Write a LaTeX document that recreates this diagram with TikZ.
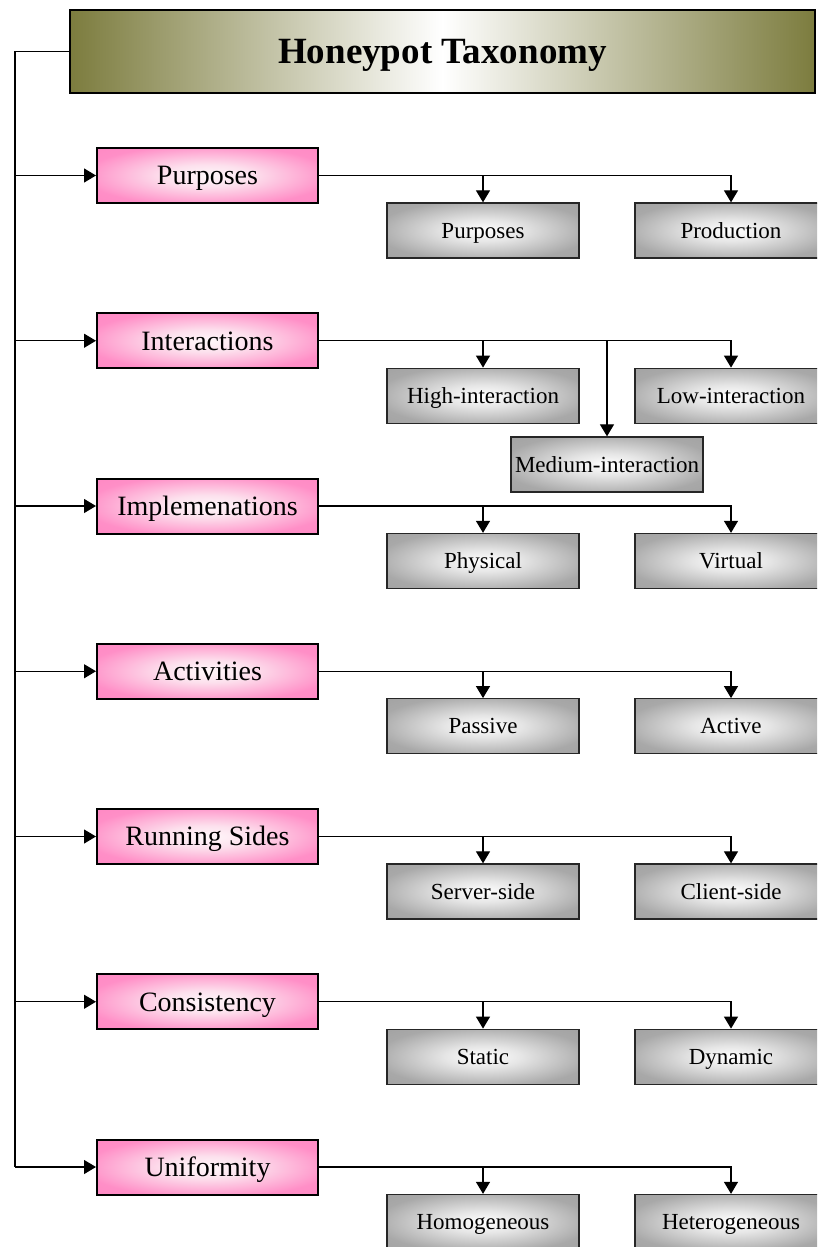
\documentclass[tikz,border=0pt]{standalone}
\usepackage{fontspec}
\setmainfont{Liberation Serif}
\usetikzlibrary{arrows.meta}
\definecolor{olivebar}{RGB}{124,124,62}
\pgfdeclareradialshading{pinkglow}{\pgfpoint{0bp}{0bp}}{rgb(0bp)=(1,0.97,0.98);rgb(10bp)=(0.99,0.88,0.93);rgb(28bp)=(1,0.56,0.78);rgb(50bp)=(1,0.5,0.75)}
\pgfdeclareradialshading{grayglow}{\pgfpoint{0bp}{0bp}}{rgb(0bp)=(1,1,1);rgb(10bp)=(0.9,0.9,0.9);rgb(28bp)=(0.66,0.66,0.66);rgb(50bp)=(0.6,0.6,0.6)}
\tikzset{
  titlebox/.style={draw=black, line width=1.2pt, minimum width=745pt, minimum height=83pt,
    left color=olivebar, right color=olivebar, middle color=white,
    inner sep=0pt, text height=24.5pt, text depth=0pt,
    font=\bfseries\fontsize{37}{40}\selectfont},
  catbox/.style={draw=black, line width=2pt, minimum width=221pt, minimum height=55pt,
    shade, shading=pinkglow, inner sep=0pt, text height=18.5pt, text depth=0pt,
    font=\fontsize{28}{30}\selectfont},
  subbox/.style={draw=black!85, line width=1.3pt, minimum width=192pt, minimum height=55pt,
    shade, shading=grayglow, inner sep=0pt, text height=15.2pt, text depth=0pt,
    font=\fontsize{23}{25}\selectfont},
  link/.style={line width=1.2pt},
  arr/.style={link, -{Triangle[length=12pt,width=14pt]}}
}
\begin{document}
\begin{tikzpicture}[x=1pt,y=-1pt]
  \useasboundingbox (0,0) rectangle (817,1247);
  \clip (0,0) rectangle (817,1247);
  \coordinate (trunk) at (15,0);
  \node[titlebox] (ttl) at (442.5,51.5) {Honeypot Taxonomy};
  \foreach \i/\cat/\a/\b in {1/Purposes/Purposes/Production,
      2/Interactions/High-interaction/Low-interaction,
      3/Implemenations/Physical/Virtual,
      4/Activities/Passive/Active,
      5/Running Sides/Server-side/Client-side,
      6/Consistency/Static/Dynamic,
      7/Uniformity/Homogeneous/Heterogeneous}
  {
    \pgfmathsetmacro\y{175.5+(\i-1)*165.25}
    \node[catbox] (c\i) at (207.5,\y) {\cat};
    \node[subbox] (a\i) at (483,\y+55) {\a};
    \node[subbox] (b\i) at (731,\y+55) {\b};
    \draw[arr] (trunk |- c\i.west) -- (c\i.west);
    \draw[arr] (c\i.east) -| (b\i.north);
    \draw[arr] (c\i.east -| a\i.north) -- (a\i.north);
  }
  \node[subbox] (m2) at (607,464.5) {Medium-interaction};
  \draw[arr] (c2.east -| m2.north) -- (m2.north);
  % trunk line
  \draw[link] (ttl.west) -| (trunk |- c7.west);
\end{tikzpicture}
\end{document}
